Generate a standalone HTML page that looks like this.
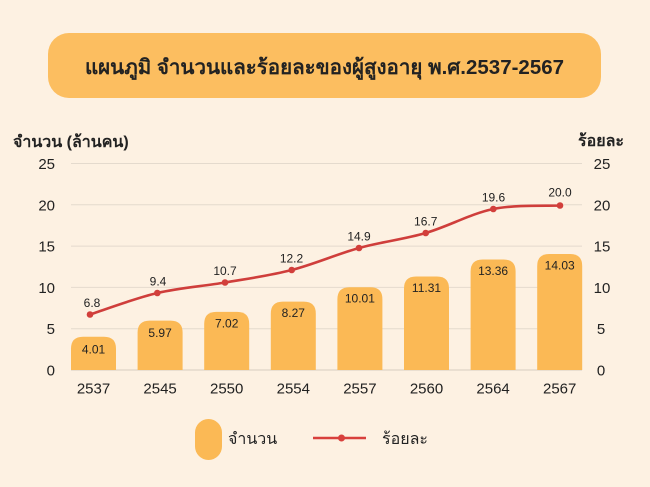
<!DOCTYPE html>
<html><head><meta charset="utf-8">
<style>
html,body{margin:0;padding:0;background:#fdf1e2;}
svg{display:block;font-family:"Liberation Sans","DejaVu Sans",sans-serif;}
</style></head>
<body>
<svg width="650" height="487" viewBox="0 0 650 487" xmlns="http://www.w3.org/2000/svg">
<rect x="0" y="0" width="650" height="487" fill="#fdf1e2"/>
<!-- title box -->
<rect x="48" y="33" width="553" height="65" rx="21" ry="21" fill="#fcbe60"/>
<text x="324.5" y="74" text-anchor="middle" font-size="20.5" font-weight="600" fill="#222">แผนภูมิ จำนวนและร้อยละของผู้สูงอายุ พ.ศ.2537-2567</text>

<!-- axis titles -->
<text x="13" y="147" font-size="16" font-weight="600" fill="#222">จำนวน (ล้านคน)</text>
<text x="578" y="146" font-size="16" font-weight="600" fill="#222">ร้อยละ</text>

<!-- gridlines -->
<g stroke="#e4dacd" stroke-width="1">
<line x1="71" y1="163.5" x2="582" y2="163.5"/>
<line x1="71" y1="204.8" x2="582" y2="204.8"/>
<line x1="71" y1="246.1" x2="582" y2="246.1"/>
<line x1="71" y1="287.4" x2="582" y2="287.4"/>
<line x1="71" y1="328.7" x2="582" y2="328.7"/>
<line x1="71" y1="370" x2="582" y2="370" stroke="#d6cdc0"/>
</g>

<!-- left axis labels -->
<g font-size="15" fill="#222" text-anchor="end">
<text x="55" y="169">25</text>
<text x="55" y="210.3">20</text>
<text x="55" y="251.6">15</text>
<text x="55" y="292.9">10</text>
<text x="55" y="334.2">5</text>
<text x="55" y="375.5">0</text>
</g>
<!-- right axis labels -->
<g font-size="15" fill="#222" text-anchor="middle">
<text x="602" y="169">25</text>
<text x="602" y="210.3">20</text>
<text x="602" y="251.6">15</text>
<text x="602" y="292.9">10</text>
<text x="601" y="334.2">5</text>
<text x="601" y="375.5">0</text>
</g>

<!-- bars -->
<g fill="#fbb955">
<path d="M71,370 V348.8 Q71,336.8 83,336.8 H104 Q116,336.8 116,348.8 V370 Z"/>
<path d="M137.6,370 V332.6 Q137.6,320.6 149.6,320.6 H170.6 Q182.6,320.6 182.6,332.6 V370 Z"/>
<path d="M204.2,370 V323.9 Q204.2,311.9 216.2,311.9 H237.2 Q249.2,311.9 249.2,323.9 V370 Z"/>
<path d="M270.8,370 V313.6 Q270.8,301.6 282.8,301.6 H303.8 Q315.8,301.6 315.8,313.6 V370 Z"/>
<path d="M337.4,370 V299.2 Q337.4,287.2 349.4,287.2 H370.4 Q382.4,287.2 382.4,299.2 V370 Z"/>
<path d="M404,370 V288.5 Q404,276.5 416,276.5 H437 Q449,276.5 449,288.5 V370 Z"/>
<path d="M470.6,370 V271.5 Q470.6,259.5 482.6,259.5 H503.6 Q515.6,259.5 515.6,271.5 V370 Z"/>
<path d="M537.2,370 V266 Q537.2,254 549.2,254 H570.2 Q582.2,254 582.2,266 V370 Z"/>
</g>

<!-- bar value labels -->
<g font-size="12" fill="#222" text-anchor="middle">
<text x="93.5" y="353.5">4.01</text>
<text x="160.1" y="337">5.97</text>
<text x="226.7" y="327.5">7.02</text>
<text x="293.3" y="317">8.27</text>
<text x="359.9" y="302.5">10.01</text>
<text x="426.5" y="292">11.31</text>
<text x="493.1" y="275">13.36</text>
<text x="559.7" y="269.5">14.03</text>
</g>

<!-- line -->
<path d="M90,314.5 C101.2,310.9 134.8,298.3 157.3,293 C179.8,287.7 202.6,286.3 225,282.5 C247.4,278.7 269.4,275.75 291.7,270 C314,264.25 336.7,254.2 359,248 C381.3,241.8 403.3,239.5 425.7,233 C448.1,226.5 470.9,213.6 493.3,209 C515.7,204.4 548.9,206.1 560,205.5" fill="none" stroke="#cf3e3b" stroke-width="2.6"/>
<g fill="#d23f3b">
<circle cx="90" cy="314.5" r="3.3"/>
<circle cx="157.3" cy="293" r="3.3"/>
<circle cx="225" cy="282.5" r="3.3"/>
<circle cx="291.7" cy="270" r="3.3"/>
<circle cx="359" cy="248" r="3.3"/>
<circle cx="425.7" cy="233" r="3.3"/>
<circle cx="493.3" cy="209" r="3.3"/>
<circle cx="560" cy="205.5" r="3.3"/>
</g>
<!-- line labels -->
<g font-size="12" fill="#222" text-anchor="middle">
<text x="92" y="307">6.8</text>
<text x="158" y="285.5">9.4</text>
<text x="225" y="275">10.7</text>
<text x="291.5" y="262.5">12.2</text>
<text x="359" y="240.5">14.9</text>
<text x="425.7" y="225.5">16.7</text>
<text x="493.5" y="201.5">19.6</text>
<text x="560" y="196.5">20.0</text>
</g>

<!-- x labels -->
<g font-size="15" fill="#222" text-anchor="middle">
<text x="93.5" y="393.5">2537</text>
<text x="160.1" y="393.5">2545</text>
<text x="226.7" y="393.5">2550</text>
<text x="293.3" y="393.5">2554</text>
<text x="359.9" y="393.5">2557</text>
<text x="426.5" y="393.5">2560</text>
<text x="493.1" y="393.5">2564</text>
<text x="559.7" y="393.5">2567</text>
</g>

<!-- legend -->
<rect x="195" y="419" width="27" height="41" rx="13.5" ry="13.5" fill="#fbb955"/>
<text x="228" y="444" font-size="16" fill="#222">จำนวน</text>
<line x1="313" y1="438" x2="366" y2="438" stroke="#d8403c" stroke-width="2.6"/>
<circle cx="341.5" cy="438" r="3.5" fill="#d8403c"/>
<text x="382" y="444" font-size="16" fill="#222">ร้อยละ</text>
</svg>
</body></html>
